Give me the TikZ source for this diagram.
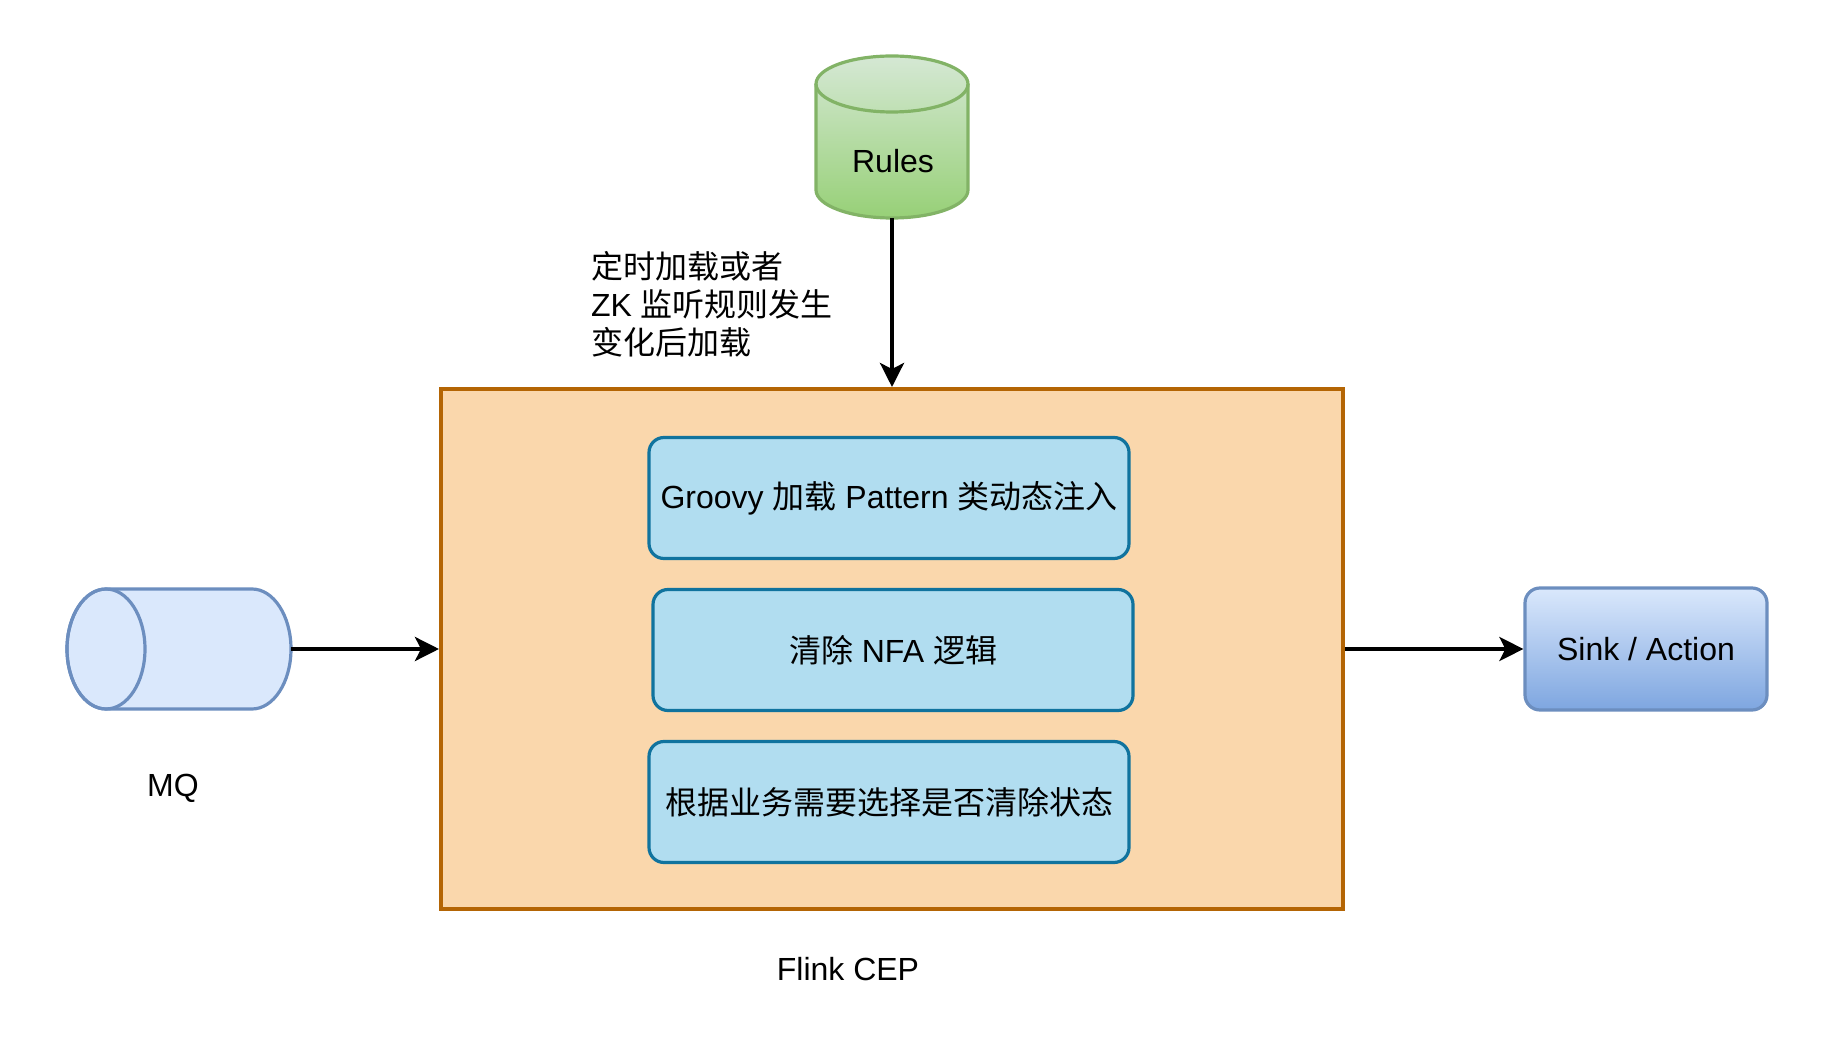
\documentclass[tikz,border=0pt]{standalone}
\usepackage{fontspec}
\setmainfont{Liberation Sans}
\newfontfamily\cjk{Noto Sans CJK SC}
\usetikzlibrary{arrows.meta}

\definecolor{rulestop}{HTML}{D5E8D4}
\definecolor{rulesbot}{HTML}{97D077}
\definecolor{rulesline}{HTML}{82B366}
\definecolor{mqfill}{HTML}{DAE8FC}
\definecolor{mqline}{HTML}{6C8EBF}
\definecolor{sinkbot}{HTML}{7EA6E0}
\definecolor{cepfill}{HTML}{FAD7AC}
\definecolor{cepline}{HTML}{B46504}
\definecolor{taskfill}{HTML}{B1DDF0}
\definecolor{taskline}{HTML}{10739E}

\begin{document}
\begin{tikzpicture}[
    x=0.5pt, y=-0.5pt,
    >={Stealth[length=12pt, width=12pt, inset=3pt]},
    every node/.style={font=\fontsize{16}{19}\selectfont},
    flow/.style={->, line width=2pt, black},
    holder/.style={rectangle, inner sep=0pt, outer sep=0pt},
    panel/.style={rectangle, draw=cepline, fill=cepfill, line width=2pt,
        minimum width=451pt, minimum height=260pt},
    task/.style={rectangle, rounded corners=7.5pt, draw=taskline, fill=taskfill,
        line width=1.6pt, minimum width=240pt, minimum height=60.5pt},
    sinkbox/.style={rectangle, rounded corners=7.5pt, draw=mqline, top color=mqfill,
        bottom color=sinkbot, line width=1.6pt, minimum width=121pt, minimum height=61pt}
]

    \useasboundingbox (0,0) rectangle (1836,1058);

    % rules store (vertical drum)
    \node[holder, minimum width=76pt, minimum height=81pt] (rules) at (892,137) {};
    \draw[rulesline, line width=1.6pt, top color=rulestop, bottom color=rulesbot]
        ([yshift=-14pt]rules.north west) -- ([yshift=14pt]rules.south west)
        arc[start angle=180, end angle=360, x radius=38pt, y radius=14pt]
        -- ([yshift=-14pt]rules.north east)
        arc[start angle=0, end angle=180, x radius=38pt, y radius=14pt] -- cycle;
    \draw[rulesline, line width=1.6pt] ([yshift=-14pt]rules.north west)
        arc[start angle=180, end angle=360, x radius=38pt, y radius=14pt];
    \node (rulestext) at (893,161) {Rules};

    % message queue (lying drum)
    \node[holder, minimum width=112pt, minimum height=60pt] (mq) at (179,649) {};
    \draw[mqline, line width=1.6pt, fill=mqfill]
        ([xshift=19.5pt]mq.north west) -- ([xshift=-19.5pt]mq.north east)
        arc[start angle=90, end angle=-90, x radius=19.5pt, y radius=30pt]
        -- ([xshift=19.5pt]mq.south west)
        arc[start angle=270, end angle=90, x radius=19.5pt, y radius=30pt] -- cycle;
    \draw[mqline, line width=1.6pt] ([xshift=19.5pt]mq.west)
        ellipse[x radius=19.5pt, y radius=30pt];
    \node (mqtext) at (173,788) {MQ};

    % flink job
    \node[panel] (main) at (892,649) {};
    \node (cep) at (848,969) {Flink CEP};

    \node[task] (groovy) at (889,498) {Groovy {\cjk 加载} Pattern {\cjk 类动态注入}};
    \node[task] (nfa) at (893,650) {{\cjk 清除} NFA {\cjk 逻辑}};
    \node[task] (state) at (889,802) {\cjk 根据业务需要选择是否清除状态};

    \node[sinkbox] (sink) at (1646,649) {Sink / Action};

    \node[anchor=west, align=left] (note) at (584,304)
        {{\cjk 定时加载或者}\\ZK {\cjk 监听规则发生}\\{\cjk 变化后加载}};

    \draw[flow] (rules) -- (main);
    \draw[flow] (mq) -- (main);
    \draw[flow] (main) -- (sink);

\end{tikzpicture}
\end{document}
